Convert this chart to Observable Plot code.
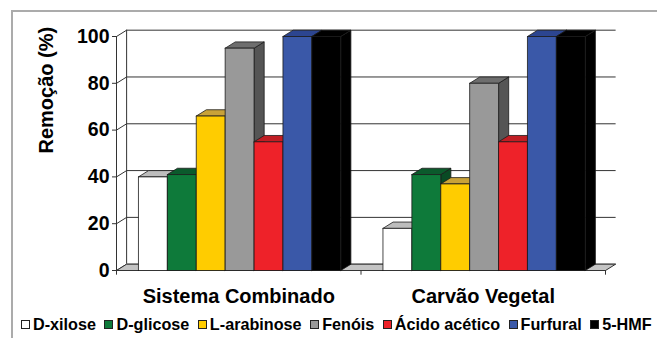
<!DOCTYPE html>
<html>
<head>
<meta charset="utf-8">
<script src="https://cdn.jsdelivr.net/npm/d3@7"></script>
<script src="https://cdn.jsdelivr.net/npm/@observablehq/plot@0.6"></script>
<style>
  body { margin: 0; background: #fff; }
  #fig { position: relative; width: 657px; height: 338px; overflow: hidden; background: #fff;
         font-family: "Liberation Sans", Arial, sans-serif; }
  #border { position: absolute; left: 11px; top: 10px; width: 700px; height: 400px; border: 2px solid #ababab; }
  #chart { position: absolute; left: 0; top: 0; }
  #legend { position: absolute; left: 21px; top: 315px; display: flex; white-space: nowrap;
            font-weight: bold; font-size: 16.2px; line-height: 18px; color: #000; }
  .item { display: flex; align-items: center; margin-right: 8.5px; }
  .item:last-child { margin-right: 0; }
  .sw { width: 7px; height: 7px; border: 1px solid #222; margin-right: 3px; }
</style>
</head>
<body>
<div id="fig">
  <div id="border"></div>
  <div id="chart"></div>
  <div id="legend"></div>
</div>
<script>
// Categories and series
const groups = ["Sistema Combinado", "Carvão Vegetal"];
const series = ["D-xilose", "D-glicose", "L-arabinose", "Fenóis", "Ácido acético", "Furfural", "5-HMF"];

// Removal (%) per series, one array per treatment
const sistemaCombinado = [40, 41, 66, 95, 55, 100, 100];
const carvaoVegetal = [18, 41, 37, 80, 55, 100, 100];

// Y axis ticks
const yTicks = [0, 20, 40, 60, 80, 100];

// Face colours of each series (front, top, side)
const frontColors = ["#ffffff", "#0e7a3a", "#ffcc00", "#999999", "#ee2229", "#3a58a8", "#000000"];
const topColors   = ["#bdbdbd", "#0b5a2c", "#c9a238", "#6e6e6e", "#c01e24", "#2c4590", "#000000"];
const sideColors  = ["#a8a8a8", "#094a24", "#b08c00", "#555555", "#a3191e", "#243a78", "#000000"];

// Layout in bar-width units: padding before the first bar of a group,
// width of a whole group, and the depth of the 3D extrusion.
const PAD = 0.76;
const GROUP = 7 + 2 * 0.73;
const DEPTH_X = 0.35;   // in bar widths
const DEPTH_Y = 2.7;    // in percentage points

// Build closed polygons for every bar: side, top, then front face
const faces = [];
[sistemaCombinado, carvaoVegetal].forEach((vals, g) => {
  vals.forEach((v, i) => {
    const x1 = g * GROUP + PAD + i, x2 = x1 + 1;
    const add = (face, fill, pts) =>
      pts.forEach(([x, y]) => faces.push({id: `${g}-${i}-${face}`, fill, x, y}));
    add("side", sideColors[i],
      [[x2, 0], [x2 + DEPTH_X, DEPTH_Y], [x2 + DEPTH_X, v + DEPTH_Y], [x2, v], [x2, 0]]);
    add("top", topColors[i],
      [[x1, v], [x2, v], [x2 + DEPTH_X, v + DEPTH_Y], [x1 + DEPTH_X, v + DEPTH_Y], [x1, v]]);
    add("front", frontColors[i],
      [[x1, 0], [x2, 0], [x2, v], [x1, v], [x1, 0]]);
  });
});

// Floor slab under the bars
const W = 2 * GROUP;
const floor = [[0, 0], [W, 0], [W + DEPTH_X, DEPTH_Y], [DEPTH_X, DEPTH_Y], [0, 0]]
  .map(([x, y]) => ({x, y}));

const chart = Plot.plot({
  width: 657,
  height: 312,
  marginLeft: 116,
  marginRight: 52,
  marginTop: 36,
  marginBottom: 42,
  style: {fontFamily: "Liberation Sans, Arial, sans-serif", fontSize: "19px", fontWeight: "bold", color: "#000", background: "transparent"},
  x: {domain: [0, W], axis: null},
  y: {domain: [0, 100], axis: null},
  color: {type: "identity"},
  marks: [
    // back wall gridlines
    Plot.link(yTicks, {x1: DEPTH_X, x2: W + DEPTH_X, y1: d => d + DEPTH_Y, y2: d => d + DEPTH_Y, stroke: "#333", strokeWidth: 1}),
    // side wall: connectors from the axis to the back wall
    Plot.link(yTicks, {x1: 0, x2: DEPTH_X, y1: d => d, y2: d => d + DEPTH_Y, stroke: "#333", strokeWidth: 1}),
    Plot.ruleX([DEPTH_X], {y1: DEPTH_Y, y2: 100 + DEPTH_Y, stroke: "#333", strokeWidth: 1}),
    // floor
    Plot.line(floor, {x: "x", y: "y", fill: "#c4c4c4", stroke: "#333", strokeWidth: 1}),
    // 3D columns
    Plot.line(faces, {x: "x", y: "y", z: "id", fill: "fill", stroke: "#1a1a1a", strokeWidth: 0.8}),
    // value axis
    Plot.ruleX([0], {y1: 0, y2: 100, stroke: "#333", strokeWidth: 1}),
    Plot.axisY({ticks: yTicks, tickSize: 4, tickPadding: 3, fontSize: 19.5, fontWeight: "bold", label: null, stroke: "#333"}),
    // category separators below the floor
    Plot.ruleX([0, GROUP, W], {y1: 0, y2: -2, stroke: "#333", strokeWidth: 1}),
    // category labels
    Plot.text(groups, {x: (d, i) => i * GROUP + GROUP / 2, y: 0, dy: 26, fontSize: 20, fontWeight: "bold", fill: "#000"}),
    // y title
    Plot.text(["Remoção (%)"], {frameAnchor: "left", rotate: -90, dx: -70, fontSize: 20, fontWeight: "bold", fill: "#000"})
  ]
});
document.getElementById("chart").appendChild(chart);

// Legend
const legend = d3.select("#legend");
series.forEach((s, i) => {
  const item = legend.append("div").attr("class", "item");
  item.append("span").attr("class", "sw").style("background", frontColors[i]);
  item.append("span").text(s);
});
</script>
</body>
</html>
